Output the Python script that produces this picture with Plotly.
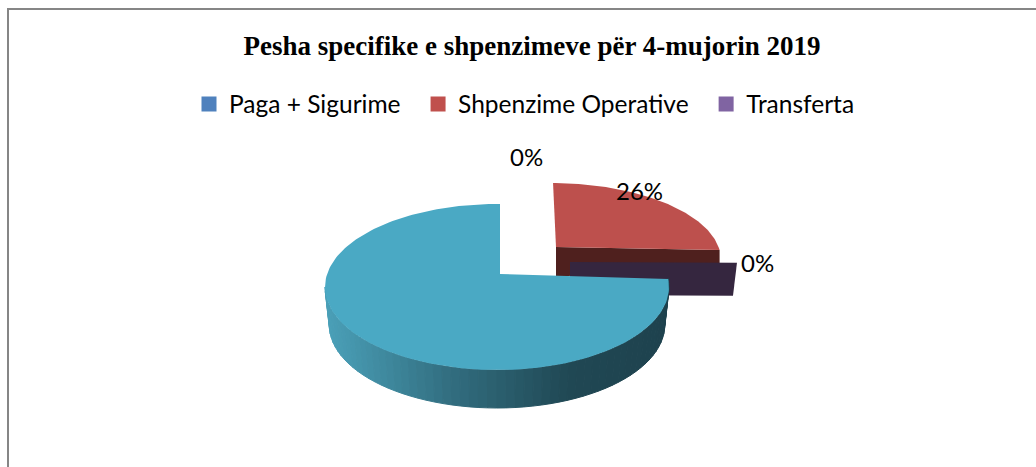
import math
import plotly.graph_objects as go

TITLE = "Pesha specifike e shpenzimeve për 4-mujorin 2019"
CATEGORIES = ["Paga + Sigurime", "Shpenzime Operative", "Transferta", "Tjera"]
SHARES = [0, 26, 0, 74]
LEGEND_COLORS = ["#4f81bd", "#c0504d", "#8064a2"]

START = -3.6  # first slice edge, degrees, ellipse-plane


def rim(ax, ay, cx, cy, rx, ry, deg):
    """Point where the ray from the apex at slice angle deg leaves the ellipse."""
    t = math.radians(deg)
    dx, dy = rx * math.cos(t), -ry * math.sin(t)
    ox, oy = (ax - cx) / rx, (ay - cy) / ry
    ux, uy = dx / rx, dy / ry
    a = ux * ux + uy * uy
    b = 2 * (ox * ux + oy * uy)
    c = ox * ox + oy * oy - 1
    s = (-b + math.sqrt(b * b - 4 * a * c)) / (2 * a)
    return ax + s * dx, ay + s * dy


def sector(apex, ell, a0, a1, n=90):
    pts = [rim(*apex, *ell, a0 + (a1 - a0) * i / n) for i in range(n + 1)]
    return [apex[0]] + [p[0] for p in pts] + [apex[0]], [apex[1]] + [p[1] for p in pts] + [apex[1]]


fig = go.Figure()


def poly(xs, ys, color, lw=0):
    fig.add_trace(go.Scatter(x=xs, y=ys, mode="lines", fill="toself", fillcolor=color,
                             line=dict(color=color, width=lw), hoverinfo="skip", showlegend=False))


def mix(c1, c2, f):
    return "rgb(%d,%d,%d)" % tuple(round(a + (b - a) * f) for a, b in zip(c1, c2))


teal_share = SHARES[3]
red_share = SHARES[1]
teal_end = START - teal_share * 3.6          # clockwise from the start edge
red_a1 = START + 1.2
red_a0 = red_a1 + red_share * 3.6

# Shpenzime Operative: exploded slice
ra = (556, 247)
rell = (551, 260, 170, 77)
rr = rim(*ra, *rell, red_a1)
poly([ra[0], rr[0], rr[0], ra[0], ra[0]], [ra[1], rr[1], rr[1] + 14, ra[1] + 30, ra[1]], "#4f201e")

# Transferta: zero-width exploded slice, only its cut face shows
pa = (570, 262)
pr = rim(*pa, 566, 275, 173, 80, START + 3.0)
depth_p = 33
poly([pa[0], pr[0], pr[0] - 4, pa[0], pa[0]], [pa[1], pr[1], pr[1] + depth_p, pa[1] + depth_p, pa[1]], "#35263f")

xs, ys = sector(ra, rell, red_a0, red_a1)
poly(xs, ys, "#bd504d")

# Teal slice: shaded wall, then top
tc, tr = (497, 287), (172, 83)
ta = (500, 274)
depth = 38
stops = [(0.0, (74, 160, 184)), (0.35, (50, 110, 128)), (0.7, (32, 72, 84)), (1.0, (30, 66, 78))]


def shade(f):
    for (f0, c0), (f1, c1) in zip(stops, stops[1:]):
        if f <= f1:
            return mix(c0, c1, (f - f0) / (f1 - f0))
    return mix(stops[-1][1], stops[-1][1], 0)


N = 60
for i in range(N):
    p0 = math.radians(180 + (186 * i) / N)
    p1 = math.radians(180 + (186 * (i + 1)) / N)
    x0, x1 = tc[0] + tr[0] * math.cos(p0), tc[0] + tr[0] * math.cos(p1)
    y0, y1 = tc[1] - tr[1] * math.sin(p0), tc[1] - tr[1] * math.sin(p1)
    k = 0.975
    bx0, bx1 = tc[0] + k * tr[0] * math.cos(p0), tc[0] + k * tr[0] * math.cos(p1)
    by0, by1 = tc[1] + depth - tr[1] * math.sin(p0), tc[1] + depth - tr[1] * math.sin(p1)
    poly([x0, x1, bx1, bx0, x0], [y0, y1, by1, by0, y0], shade(min(1, (x0 - 325) / 343)), 1)
xs, ys = sector(ta, (*tc, *tr), START, teal_end, 180)
poly(xs, ys, "#4aa9c4")

# Legend entries (marker only)
for name, color in zip(CATEGORIES[:3], LEGEND_COLORS):
    fig.add_trace(go.Scatter(x=[None], y=[None], mode="markers", name=name + "\u00a0" * 2,
                             marker=dict(symbol="square", size=15, color=color)))

LABEL = dict(showarrow=False, font=dict(family="Lato, sans-serif", size=24, color="#000000"))
annos = [
    dict(x=526, y=156, text=f"{SHARES[0]}%", **LABEL),
    dict(x=639.5, y=190.5, text=f"{SHARES[1]}%", **LABEL),
    dict(x=757.5, y=262, text=f"{SHARES[2]}%", **LABEL),
]

fig.update_layout(
    width=1036, height=467, margin=dict(l=0, r=0, t=0, b=0), autosize=False,
    paper_bgcolor="white", plot_bgcolor="white",
    title=dict(text=f"<b>{TITLE}</b>", x=532 / 1036, xanchor="center", y=1 - 46 / 467, yanchor="middle",
               font=dict(family="Liberation Serif, serif", size=27, color="#000000")),
    xaxis=dict(range=[0, 1036], visible=False, fixedrange=True),
    yaxis=dict(range=[467, 0], visible=False, fixedrange=True),
    legend=dict(orientation="h", x=189 / 1036, xanchor="left", y=1 - 104 / 467, yanchor="middle",
                font=dict(family="Lato, sans-serif", size=24.5, color="#000000"),
                itemsizing="trace", bgcolor="rgba(0,0,0,0)"),
    annotations=annos,
    shapes=[
        dict(type="line", xref="paper", yref="paper", x0=7 / 1036, x1=1, y0=1 - 9 / 467, y1=1 - 9 / 467,
             line=dict(color="#868686", width=2)),
        dict(type="line", xref="paper", yref="paper", x0=8 / 1036, x1=8 / 1036, y0=1 - 8 / 467, y1=0,
             line=dict(color="#868686", width=2)),
    ],
)

fig.write_html("out.html", config={"displayModeBar": False},
               post_script="document.body.style.margin='0';document.body.style.overflow='hidden';")
